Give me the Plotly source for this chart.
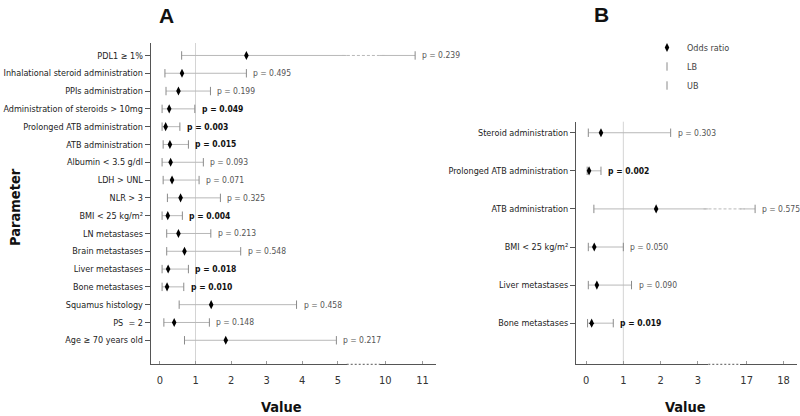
import plotly.graph_objects as go

# ---------------- data ----------------
a_labels = ["PDL1 ≥ 1%", "Inhalational steroid administration", "PPIs administration",
            "Administration of steroids > 10mg", "Prolonged ATB administration", "ATB administration",
            "Albumin < 3.5 g/dl", "LDH > UNL", "NLR > 3", "BMI < 25 kg/m²", "LN metastases",
            "Brain metastases", "Liver metastases", "Bone metastases", "Squamus histology",
            "PS  = 2", "Age ≥ 70 years old"]
a_or = [2.43, 0.62, 0.52, 0.26, 0.16, 0.28, 0.30, 0.34, 0.58, 0.22, 0.52, 0.69, 0.23, 0.20, 1.44, 0.40, 1.85]
a_lb = [0.61, 0.14, 0.17, 0.06, 0.06, 0.09, 0.06, 0.09, 0.21, 0.06, 0.19, 0.19, 0.06, 0.06, 0.54, 0.11, 0.69]
a_ub = [10.8, 2.43, 1.42, 0.98, 0.56, 0.80, 1.22, 1.10, 1.70, 0.63, 1.43, 2.27, 0.80, 0.67, 3.84, 1.39, 4.96]
a_p = [0.239, 0.495, 0.199, 0.049, 0.003, 0.015, 0.093, 0.071, 0.325, 0.004, 0.213, 0.548, 0.018, 0.010, 0.458, 0.148, 0.217]

b_labels = ["Steroid administration", "Prolonged ATB administration", "ATB administration",
            "BMI < 25 kg/m²", "Liver metastases", "Bone metastases"]
b_or = [0.40, 0.08, 1.88, 0.22, 0.29, 0.15]
b_lb = [0.06, 0.03, 0.21, 0.06, 0.06, 0.04]
b_ub = [2.27, 0.40, 17.23, 1.00, 1.22, 0.73]
b_p = [0.303, 0.002, 0.575, 0.050, 0.090, 0.019]

a_main_ticks = [0, 1, 2, 3, 4, 5]
a_tail_ticks = [10, 11]
b_main_ticks = [0, 1, 2, 3]
b_tail_ticks = [17, 18]

legend_names = ["Odds ratio", "LB", "UB"]

# ---------------- layout helpers ----------------
W, H = 800, 416
def fx(p):
    return p / W
def fy(p):
    return 1 - p / H

FONT = "DejaVu Sans Condensed, Liberation Sans Narrow, sans-serif"
CI_COLOR = "#b8b8b8"
CAP_COLOR = "#8a8a8a"
AXIS_COLOR = "#555555"

fig = go.Figure()
annotations = []
shapes = []


def add_panel(labels, orv, lb, ub, pv, xm, xt, ya, main_rng, legend):
    n = len(labels)
    ys = [n - 1 - i for i in range(n)]
    lx, ly = [], []
    for i in range(n):
        lx += [lb[i], ub[i], None]
        ly += [ys[i], ys[i], None]
    for xa in (xm, xt):
        fig.add_trace(go.Scatter(x=lx, y=ly, mode="lines", line=dict(color=CI_COLOR, width=1),
                                 xaxis=xa, yaxis=ya, showlegend=False, hoverinfo="skip"))
    for xa in (xm, xt):
        show = legend and xa == xm
        fig.add_trace(go.Scatter(x=lb, y=ys, mode="markers", name=legend_names[1],
                                 marker=dict(symbol="line-ns", size=6,
                                             line=dict(color=CAP_COLOR, width=1)),
                                 xaxis=xa, yaxis=ya, showlegend=show, legendrank=2))
        fig.add_trace(go.Scatter(x=ub, y=ys, mode="markers", name=legend_names[2],
                                 marker=dict(symbol="line-ns", size=6,
                                             line=dict(color=CAP_COLOR, width=1)),
                                 xaxis=xa, yaxis=ya, showlegend=show, legendrank=3))
        fig.add_trace(go.Scatter(x=orv, y=ys, mode="markers", name=legend_names[0],
                                 marker=dict(symbol="diamond-tall", size=6.5, color="black"),
                                 xaxis=xa, yaxis=ya, showlegend=show, legendrank=1))
    xm_dom = fig.layout[xm.replace("x", "xaxis")].domain
    xt_dom = fig.layout[xt.replace("x", "xaxis")].domain
    for i in range(n):
        sig = pv[i] < 0.05
        txt = f"p = {pv[i]:.3f}"
        beyond = ub[i] > main_rng[1]
        annotations.append(dict(
            x=ub[i], y=ys[i], xref=xt if beyond else xm, yref=ya,
            text=f"<b>{txt}</b>" if sig else txt,
            showarrow=False, xanchor="left", yanchor="middle", xshift=5,
            font=dict(family=FONT, size=8.5, color="#111" if sig else "#555")))
        if beyond:
            shapes.append(dict(type="line", xref="paper", yref=ya,
                               x0=xm_dom[1] - 0.006, x1=xt_dom[0] + 0.006,
                               y0=ys[i], y1=ys[i],
                               line=dict(color=CI_COLOR, width=1, dash="3px,2px")))
    shapes.append(dict(type="line", xref=xm, yref=ya + " domain", x0=1, x1=1, y0=0, y1=1,
                       line=dict(color="#d4d4d4", width=1), layer="below"))
    shapes.append(dict(type="line", xref="paper", yref=ya + " domain",
                       x0=xm_dom[1], x1=xt_dom[0], y0=0, y1=0,
                       line=dict(color=AXIS_COLOR, width=1, dash="2px,2px")))
    return ys


xcommon = dict(showgrid=False, zeroline=False, showline=True, linecolor=AXIS_COLOR, linewidth=1,
               ticks="inside", ticklen=3, tickcolor="#999",
               tickfont=dict(family=FONT, size=11, color="#333"), ticklabelstandoff=5,
               fixedrange=True)
ycommon = dict(showgrid=False, zeroline=False, showline=True, linecolor=AXIS_COLOR, linewidth=1,
               ticks="outside", ticklen=5, tickcolor=AXIS_COLOR,
               tickfont=dict(family=FONT, size=9, color="#222"), fixedrange=True)

a_ys = [len(a_labels) - 1 - i for i in range(len(a_labels))]
b_ys = [len(b_labels) - 1 - i for i in range(len(b_labels))]

fig.update_layout(
    xaxis=dict(domain=[fx(150.7), fx(346.7)], range=[-0.26, 5.25], anchor="y",
               tickvals=a_main_ticks, **xcommon),
    xaxis2=dict(domain=[fx(380), fx(435.7)], range=[9.86, 11.35], anchor="y",
                tickvals=a_tail_ticks, **xcommon),
    xaxis3=dict(domain=[fx(576), fx(708.3)], range=[-0.27, 3.28], anchor="y2",
                tickvals=b_main_ticks, **xcommon),
    xaxis4=dict(domain=[fx(740), fx(796.7)], range=[16.82, 18.36], anchor="y2",
                tickvals=b_tail_ticks, **xcommon),
    yaxis=dict(domain=[fy(364.3), fy(43)], range=[-1.35, 16.7], anchor="x",
               tickvals=a_ys, ticktext=a_labels, **ycommon),
    yaxis2=dict(domain=[fy(364.3), fy(121.7)], range=[-1.08, 5.29], anchor="x3",
                tickvals=b_ys, ticktext=b_labels, **ycommon),
)

add_panel(a_labels, a_or, a_lb, a_ub, a_p, "x", "x2", "y", [-0.26, 5.25], False)
add_panel(b_labels, b_or, b_lb, b_ub, b_p, "x3", "x4", "y2", [-0.27, 3.28], True)

TITLE_FONT = dict(family=FONT, size=14.5, color="#111")
PANEL_FONT = dict(family="Liberation Sans, Arial, sans-serif", size=21, color="#111")
annotations += [
    dict(text="<b>A</b>", x=fx(166), y=fy(16), xref="paper", yref="paper", showarrow=False,
         xanchor="center", yanchor="middle", font=PANEL_FONT),
    dict(text="<b>B</b>", x=fx(601), y=fy(15), xref="paper", yref="paper", showarrow=False,
         xanchor="center", yanchor="middle", font=PANEL_FONT),
    dict(text="<b>Parameter</b>", x=fx(15), y=fy(207), xref="paper", yref="paper", showarrow=False,
         xanchor="center", yanchor="middle", textangle=-90, font=TITLE_FONT),
    dict(text="<b>Value</b>", x=fx(281), y=fy(407), xref="paper", yref="paper", showarrow=False,
         xanchor="center", yanchor="middle", font=TITLE_FONT),
    dict(text="<b>Value</b>", x=fx(685), y=fy(407), xref="paper", yref="paper", showarrow=False,
         xanchor="center", yanchor="middle", font=TITLE_FONT),
]

fig.update_layout(
    width=W, height=H, margin=dict(l=0, r=0, t=0, b=0),
    paper_bgcolor="white", plot_bgcolor="white",
    annotations=annotations, shapes=shapes,
    legend=dict(x=fx(647), y=fy(33), xanchor="left", yanchor="top", bgcolor="rgba(0,0,0,0)",
                font=dict(family=FONT, size=9, color="#444"), itemwidth=30, tracegroupgap=0),
    hovermode=False,
)

fig.write_html("out.html", post_script="document.body.style.margin='0';",
               config={"displayModeBar": False})
